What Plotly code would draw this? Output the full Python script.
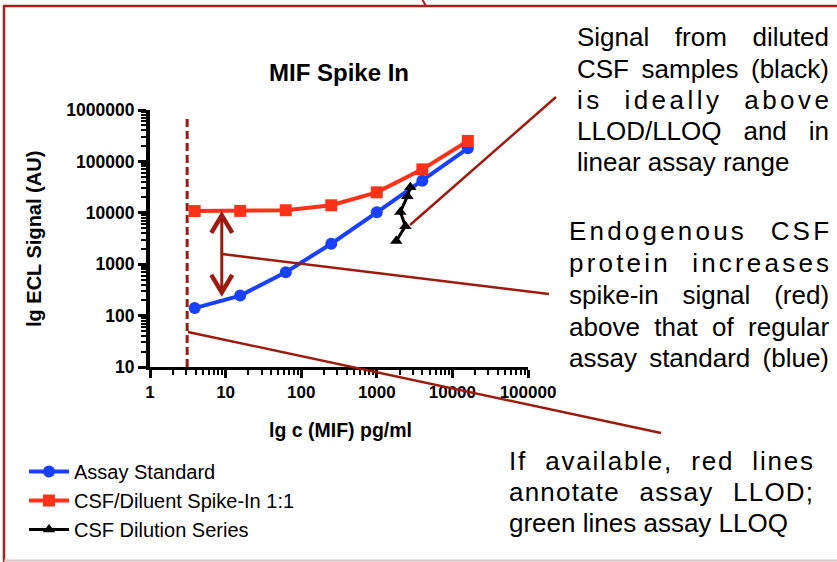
import math
import plotly.graph_objects as go

# ---------------- data ----------------
std_conc = [3.9, 15.6, 62.5, 250, 1000, 4000, 16000]
std_signal = [140, 245, 700, 2500, 10200, 42000, 180000]

spike_conc = [3.9, 15.6, 62.5, 250, 1000, 4000, 16000]
spike_signal = [10800, 10900, 11200, 14000, 25000, 70000, 250000]

dil_conc = [1810, 2390, 2050, 2540, 2780]
dil_signal = [2830, 5500, 10400, 21000, 31500]

series_names = ["Assay Standard", "CSF/Diluent Spike-In 1:1", "CSF Dilution Series"]

llod_conc = 3.1
arrow_conc = 8.9
arrow_top = 9500
arrow_bottom = 265

x_tickvals = [1, 10, 100, 1000, 10000, 100000]
x_ticktext = ["1", "10", "100", "1000", "10000", "100000"]
y_tickvals = [10, 100, 1000, 10000, 100000, 1000000]
y_ticktext = ["10", "100", "1000", "10000", "100000", "1000000"]

title_text = "MIF Spike In"
x_title = "lg c (MIF) pg/ml"
y_title = "lg ECL Signal (AU)"

block1 = ["Signal from diluted", "CSF samples (black)", "is ideally above",
          "LLOD/LLOQ and in", "linear assay range"]
block2 = ["Endogenous CSF", "protein increases", "spike-in signal (red)",
          "above that of regular", "assay standard (blue)"]
block3 = ["If available, red lines", "annotate assay LLOD;", "green lines assay LLOQ"]

# ---------------- layout constants ----------------
W, H = 837, 562
PL, PT, PW, PH = 150, 110, 378, 257
XR = (0, 5)
YR = (1, 6)

BLUE = "#1a40ff"
RED = "#ff3219"
DARK = "#9e1a0e"
FONT = "Liberation Sans, Arial, sans-serif"


def pxx(px):
    return (px - PL) / PW


def pxy(py):
    return (PT + PH - py) / PH


def d2px(v):
    return PL + PW * (math.log10(v) - XR[0]) / (XR[1] - XR[0])


def d2py(v):
    return PT + PH * (1 - (math.log10(v) - YR[0]) / (YR[1] - YR[0]))


# Arial advance widths (per 1000 em)
AW = {' ': 278, 'a': 556, 'b': 556, 'c': 500, 'd': 556, 'e': 556, 'f': 278, 'g': 556,
      'h': 556, 'i': 222, 'j': 222, 'k': 500, 'l': 222, 'm': 833, 'n': 556, 'o': 556,
      'p': 556, 'q': 556, 'r': 333, 's': 500, 't': 278, 'u': 556, 'v': 500, 'w': 722,
      'x': 500, 'y': 500, 'z': 500, 'A': 667, 'B': 667, 'C': 722, 'D': 722, 'E': 667,
      'F': 611, 'G': 778, 'H': 722, 'I': 278, 'L': 556, 'O': 778, 'Q': 778, 'S': 667,
      '(': 333, ')': 333, '/': 278, ',': 278, ';': 278, '-': 333}


def text_w(s, size):
    return sum(AW.get(c, 556) for c in s) * size / 1000.0


fig = go.Figure()

fig.add_trace(go.Scatter(
    x=std_conc, y=std_signal, name=series_names[0], mode="lines+markers",
    line=dict(color=BLUE, width=4), marker=dict(symbol="circle", size=12, color=BLUE),
    legendgroup="a"))
fig.add_trace(go.Scatter(
    x=spike_conc, y=spike_signal, name=series_names[1], mode="lines+markers",
    line=dict(color=RED, width=4), marker=dict(symbol="square", size=12, color=RED),
    legendgroup="b"))
fig.add_trace(go.Scatter(
    x=dil_conc, y=dil_signal, name=series_names[2], mode="lines+markers",
    line=dict(color="black", width=3), marker=dict(symbol="triangle-up", size=11, color="black"),
    legendgroup="c"))

minor_x = [m * 10 ** d for d in range(XR[0], XR[1]) for m in range(2, 10)]
minor_y = [m * 10 ** d for d in range(YR[0], YR[1]) for m in range(2, 10)]

fig.update_xaxes(
    type="log", range=list(XR), showline=True, linecolor="black", linewidth=3,
    ticks="outside", ticklen=8, tickwidth=3, tickcolor="black",
    tickvals=x_tickvals, ticktext=x_ticktext,
    tickfont=dict(family=FONT, size=17, color="black", weight="bold"),
    showgrid=False, zeroline=False,
    minor=dict(tickvals=minor_x, ticks="outside", ticklen=5, tickwidth=2,
               tickcolor="black", showgrid=False))
fig.update_yaxes(
    type="log", range=list(YR), showline=True, linecolor="black", linewidth=4,
    ticks="outside", ticklen=8, tickwidth=3, tickcolor="black",
    tickvals=y_tickvals, ticktext=y_ticktext,
    tickfont=dict(family=FONT, size=17.5, color="black", weight="bold"),
    showgrid=False, zeroline=False,
    minor=dict(tickvals=minor_y, ticks="outside", ticklen=5, tickwidth=2,
               tickcolor="black", showgrid=False))

shapes = []
# frame
shapes.append(dict(type="line", xref="paper", yref="paper", x0=pxx(4), x1=pxx(4),
                   y0=pxy(6), y1=pxy(562), line=dict(color="#a3231a", width=2.5), layer="above"))
shapes.append(dict(type="line", xref="paper", yref="paper", x0=pxx(3), x1=pxx(840),
                   y0=pxy(6), y1=pxy(6), line=dict(color="#a3231a", width=2.5), layer="above"))
shapes.append(dict(type="line", xref="paper", yref="paper", x0=pxx(4), x1=pxx(840),
                   y0=pxy(560.5), y1=pxy(560.5), line=dict(color="#dcc3c3", width=2), layer="above"))
shapes.append(dict(type="line", xref="paper", yref="paper", x0=pxx(422), x1=pxx(426),
                   y0=pxy(-1), y1=pxy(6), line=dict(color="#a3231a", width=2), layer="above"))

# LLOD dashed line
shapes.append(dict(type="line", xref="x", yref="y", x0=llod_conc, x1=llod_conc,
                   y0=10, y1=800000, line=dict(color=DARK, width=3, dash="8px,4px")))

# double arrow
ax_px = d2px(arrow_conc)
top_py = d2py(arrow_top)
bot_py = d2py(arrow_bottom)
shapes.append(dict(type="line", xref="x", yref="y", x0=arrow_conc, x1=arrow_conc,
                   y0=arrow_bottom, y1=arrow_top, line=dict(color=DARK, width=3)))
for tip, sgn in ((top_py, 1), (bot_py, -1)):
    path = "M {:.5f},{:.5f} L {:.5f},{:.5f} L {:.5f},{:.5f}".format(
        pxx(ax_px - 10.5), pxy(tip + sgn * 19), pxx(ax_px), pxy(tip + sgn * 1.5),
        pxx(ax_px + 10.5), pxy(tip + sgn * 19))
    shapes.append(dict(type="path", xref="paper", yref="paper", path=path,
                       line=dict(color=DARK, width=4.5)))

# callout lines (pixel endpoints)
callouts = [((410, 225), (556, 97)), ((222, 254), (549, 294)), ((188, 332), (661, 433))]
for (x0, y0), (x1, y1) in callouts:
    shapes.append(dict(type="line", xref="paper", yref="paper", x0=pxx(x0), y0=pxy(y0),
                       x1=pxx(x1), y1=pxy(y1), line=dict(color=DARK, width=2.5), layer="above"))

annotations = []
annotations.append(dict(text="<b>" + x_title + "</b>", xref="paper", yref="paper",
                        x=pxx(340), y=pxy(430), xanchor="center", yanchor="middle",
                        showarrow=False, font=dict(family=FONT, size=19.5, color="black")))
annotations.append(dict(text="<b>" + y_title + "</b>", xref="paper", yref="paper",
                        x=pxx(34), y=pxy(239), xanchor="center", yanchor="middle", textangle=-90,
                        showarrow=False, font=dict(family=FONT, size=20, color="black")))

TS = 26
blocks = [
    (block1, 577, 829, [37, 69, 100, 131, 162], [0, 0, 3.5, 0, None]),
    (block2, 569, 829, [231, 263, 295, 327, 358], [3.2, 3.2, 0, 0, 0]),
    (block3, 509, 813, [461, 492, 523], [1.8, 1.2, None]),
]
for lines, left, right, ys, lss in blocks:
    for line, yc, ls in zip(lines, ys, lss):
        if ls is None:
            txt = line
        else:
            nat = text_w(line, TS)
            gaps = line.count(" ")
            extra = (right - left) - nat - ls * (len(line) - 1)
            ws = extra / gaps if gaps else 0
            txt = '<span style="letter-spacing:{:.2f}px;word-spacing:{:.2f}px">{}</span>'.format(ls, ws, line)
        annotations.append(dict(text=txt, xref="paper", yref="paper", x=pxx(left), y=pxy(yc),
                                xanchor="left", yanchor="middle", showarrow=False,
                                borderpad=0, borderwidth=0,
                                font=dict(family=FONT, size=TS, color="black")))

fig.update_layout(
    width=W, height=H,
    margin=dict(l=PL, r=W - PL - PW, t=PT, b=H - PT - PH, autoexpand=False),
    paper_bgcolor="white", plot_bgcolor="white",
    title=dict(text="<b>" + title_text + "</b>", xref="container", yref="container",
               x=339 / W, y=1 - 73 / H, xanchor="center", yanchor="middle",
               font=dict(family=FONT, size=24, color="black")),
    showlegend=True,
    legend=dict(xref="container", yref="container", x=24 / W, y=1 - 452 / H,
                xanchor="left", yanchor="top", bgcolor="rgba(0,0,0,0)",
                font=dict(family=FONT, size=20, color="black"),
                tracegroupgap=0, itemwidth=40),
    shapes=shapes, annotations=annotations,
)

fig.write_html("out.html")
